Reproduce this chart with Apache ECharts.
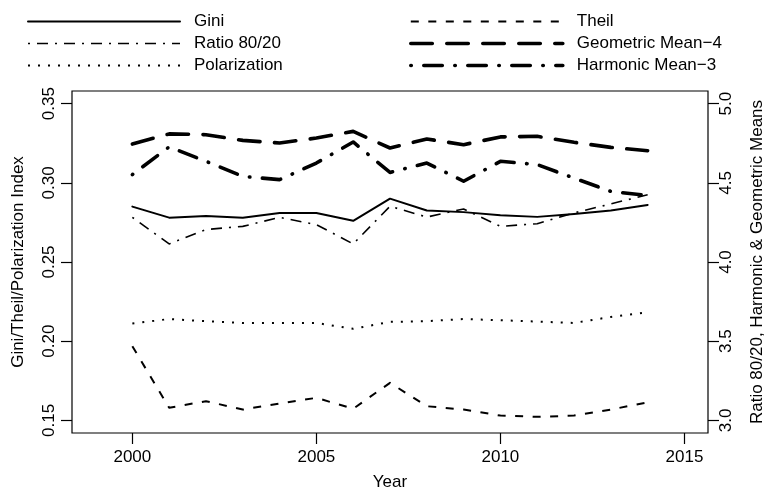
<!DOCTYPE html>
<html>
<head>
<meta charset="utf-8">
<script src="https://cdn.jsdelivr.net/npm/echarts@6/dist/echarts.min.js"></script>
<style>html,body{margin:0;padding:0;background:#fff}#c{width:768px;height:497px}</style>
</head>
<body>
<div id="c"></div>
<script>
const years = [2000,2001,2002,2003,2004,2005,2006,2007,2008,2009,2010,2011,2012,2013,2014];
const gini = [0.285,0.278,0.279,0.278,0.281,0.281,0.276,0.290,0.2825,0.2815,0.2795,0.2785,0.2803,0.2825,0.286];
const theil = [0.1968,0.1579,0.1621,0.1568,0.1606,0.1642,0.1573,0.1737,0.1589,0.1568,0.1530,0.1522,0.1530,0.1568,0.1614];
const polarization = [0.2111,0.2140,0.2126,0.2115,0.2115,0.2115,0.2078,0.2122,0.2126,0.2140,0.2132,0.2124,0.2115,0.2153,0.2183];
const ratio8020 = [4.282,4.114,4.205,4.225,4.282,4.236,4.114,4.352,4.284,4.335,4.225,4.242,4.310,4.367,4.425];
const geoMean = [4.745,4.809,4.804,4.768,4.752,4.783,4.825,4.720,4.777,4.741,4.790,4.794,4.756,4.724,4.703];
const harmMean = [4.552,4.727,4.636,4.541,4.520,4.625,4.758,4.566,4.625,4.510,4.636,4.615,4.530,4.446,4.420];
const xTicks = [2000,2005,2010,2015];
const leftTicks = [0.15,0.20,0.25,0.30,0.35];
const rightTicks = [3.0,3.5,4.0,4.5,5.0];

const FONT = "'Liberation Sans', Arial, Helvetica, sans-serif";
const pairs = arr => years.map((y,i)=>[y,arr[i]]);
const txt = {color:'#000', fontFamily:FONT, fontSize:17};

function line(name, data, yIdx, width, type, cap){
  return {name, type:'line', data:pairs(data), yAxisIndex:yIdx, symbol:'none', showSymbol:false,
    lineStyle:{color:'#000', width, type, cap:cap||'butt', join:'round'}, emphasis:{disabled:true}, silent:true};
}
const legendBase = {orient:'vertical', top:8, itemWidth:152, itemHeight:14, itemGap:5,
  textStyle:Object.assign({}, txt, {padding:[0,0,0,9]}), selectedMode:false,
  itemStyle:{color:'rgba(0,0,0,0)', borderWidth:0, opacity:0},
  lineStyle:{width:'inherit', type:'inherit', cap:'inherit', color:'inherit'}};

const chart = echarts.init(document.getElementById('c'), null, {renderer:'canvas'});
chart.setOption({
  animation:false,
  backgroundColor:'#fff',
  grid:{left:72, right:60, top:91, bottom:64, show:true, borderColor:'#000', borderWidth:1.2, containLabel:false, outerBoundsMode:'none'},
  legend:[
    Object.assign({data:['Gini','Ratio 80/20','Polarization'], left:22}, legendBase),
    Object.assign({data:['Theil','Geometric Mean\u22124','Harmonic Mean\u22123'], left:404}, legendBase)
  ],
  xAxis:{type:'value', min:1998.36, max:2015.64, name:'Year', nameLocation:'middle', nameGap:41, nameTextStyle:txt,
    axisLine:{show:false}, splitLine:{show:false},
    axisTick:{show:true, length:11, customValues:xTicks, lineStyle:{color:'#000', width:1.2}},
    axisLabel:Object.assign({customValues:xTicks, margin:16, formatter:v=>String(v)}, txt)},
  yAxis:[
    {type:'value', min:0.142, max:0.358, position:'left', name:'Gini/Theil/Polarization Index', nameLocation:'middle', nameRotate:90, nameGap:45, nameTextStyle:txt,
     axisLine:{show:false}, splitLine:{show:false},
     axisTick:{show:true, length:11, customValues:leftTicks, lineStyle:{color:'#000', width:1.2}},
     axisLabel:Object.assign({customValues:leftTicks, rotate:90, margin:14, formatter:v=>v.toFixed(2)}, txt)},
    {type:'value', min:2.92, max:5.08, position:'right', name:'Ratio 80/20, Harmonic & Geometric Means', nameLocation:'middle', nameRotate:90, nameGap:41, nameTextStyle:txt,
     axisLine:{show:false}, splitLine:{show:false},
     axisTick:{show:true, length:11, customValues:rightTicks, lineStyle:{color:'#000', width:1.2}},
     axisLabel:Object.assign({customValues:rightTicks, rotate:90, margin:10, formatter:v=>v.toFixed(1)}, txt)}
  ],
  series:[
    line('Gini', gini, 0, 2, 'solid', 'round'),
    line('Theil', theil, 0, 2, [8,9.5], 'butt'),
    line('Polarization', polarization, 0, 2, [2,8], 'butt'),
    line('Ratio 80/20', ratio8020, 1, 1.6, [2,7,11,7], 'butt'),
    line('Geometric Mean\u22124', geoMean, 1, 3.6, [21.5,14.5], 'round'),
    line('Harmonic Mean\u22123', harmMean, 1, 3.6, [0.5,12.5,18.5,12.5], 'round')
  ]
});
</script>
</body>
</html>
